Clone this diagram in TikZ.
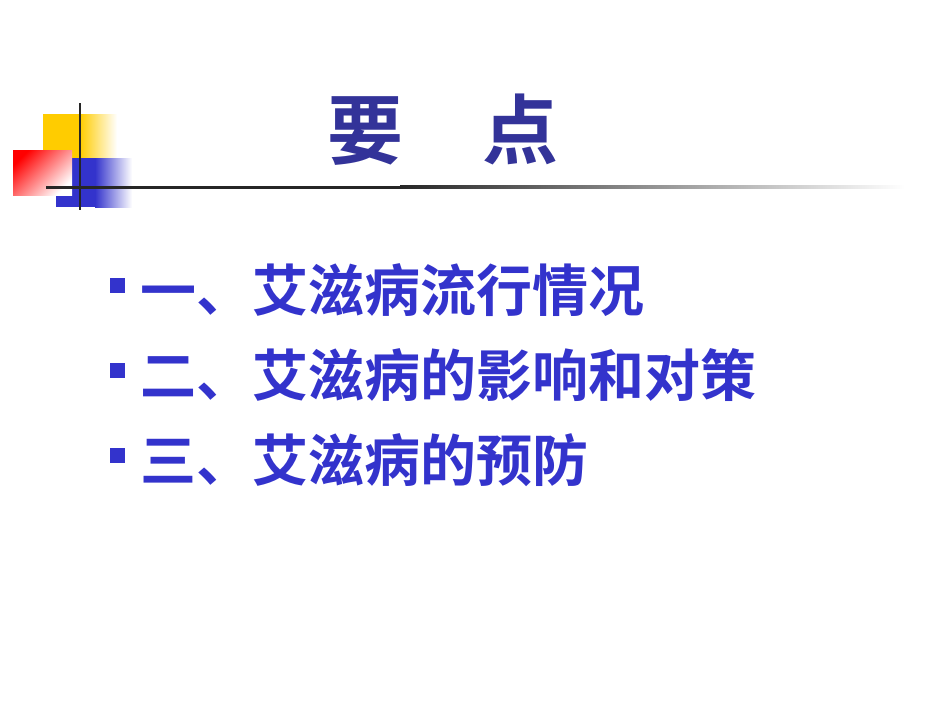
\documentclass[tikz,border=0pt]{standalone}
\usepackage{fontspec}
\newfontfamily\cjk{Noto Sans CJK SC Bold}
\definecolor{tblue}{RGB}{51,51,153}
\definecolor{iblue}{RGB}{51,51,204}
\definecolor{yel}{RGB}{255,204,0}
\definecolor{bl}{RGB}{51,51,204}
\tikzset{item/.style={anchor=west,inner sep=0pt,text=iblue,font=\cjk\fontsize{56}{56}\selectfont},
bul/.style={fill=iblue,minimum size=15pt,inner sep=0pt}}
\begin{document}
\begin{tikzpicture}[x=1pt,y=-1pt]
\useasboundingbox (0,0) rectangle (950,713);
\fill[yel] (43,114) rectangle (80,158);
\fill[left color=yel,right color=white] (80,114) rectangle (117,158);
\fill[bl] (56,158) rectangle (95,207);
\fill[left color=bl,right color=white] (95,158) rectangle (132,207);
\shade[shading=axis,top color=red,bottom color=white,shading angle=45] (13,150) rectangle (72,195);
\draw[line width=2.5pt,black!85] (80,103) -- (80,210);
\fill[black!85] (46,185.5) rectangle (400,188.5);
\shade[left color=black!85,right color=white] (400,185.5) rectangle (905,188.5);
\node[inner sep=0pt,text=tblue,font=\cjk\fontsize{76}{76}\selectfont] (t) at (443,130) {要\hspace{80pt}点};
\node[bul] (b1) at (117,285) {};
\node[item] (i1) at (140,290) {一、艾滋病流行情况};
\node[bul] (b2) at (117,370) {};
\node[item] (i2) at (140,375) {二、艾滋病的影响和对策};
\node[bul] (b3) at (117,455) {};
\node[item] (i3) at (140,460) {三、艾滋病的预防};
\end{tikzpicture}
\end{document}
